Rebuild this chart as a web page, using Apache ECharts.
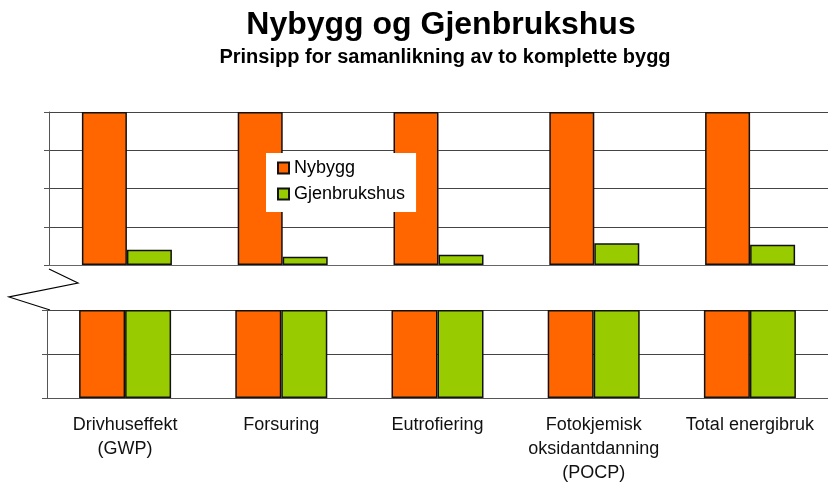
<!DOCTYPE html>
<html>
<head>
<meta charset="utf-8">
<script src="https://cdn.jsdelivr.net/npm/echarts@6/dist/echarts.min.js"></script>
<style>
  html, body { margin: 0; padding: 0; background: #fff; }
  #chart { width: 828px; height: 486px; }
</style>
</head>
<body>
<div id="chart"></div>
<script>
// kategoriar
const categories = ['Drivhuseffekt\n(GWP)', 'Forsuring', 'Eutrofiering', 'Fotokjemisk\noksidantdanning\n(POCP)', 'Total energibruk']
// øvre del (etter brot i aksen)
const nybyggUpper = [100, 100, 100, 100, 100]
const gjenbrukUpper = [10, 5.4, 6.7, 14.2, 13.3]
// nedre del (før brot i aksen)
const nybyggLower = [100, 100, 100, 100, 100]
const gjenbrukLower = [100, 100, 100, 100, 100]

const orange = '#ff6600'
const green = '#99cc00'
const font = 'Liberation Sans, Arial, sans-serif'

const chart = echarts.init(document.getElementById('chart'))

function barSeries(name, data, color, idx, width) {
  return {
    type: 'bar',
    name: name,
    data: data,
    xAxisIndex: idx,
    yAxisIndex: idx,
    barWidth: width,
    barGap: '0%',
    itemStyle: { color: color, borderColor: '#111', borderWidth: 1.5 },
    emphasis: { disabled: true },
    animation: false
  }
}

chart.setOption({
  backgroundColor: '#fff',
  title: [
    {
      text: 'Nybygg og Gjenbrukshus',
      left: 436, top: 4, textAlign: 'center',
      textStyle: { fontFamily: font, fontSize: 32, fontWeight: 'bold', color: '#000' }
    },
    {
      text: 'Prinsipp for samanlikning av to komplette bygg',
      left: 440, top: 42, textAlign: 'center',
      textStyle: { fontFamily: font, fontSize: 20, fontWeight: 'bold', color: '#000' }
    }
  ],
  legend: {
    data: ['Nybygg', 'Gjenbrukshus'],
    orient: 'vertical',
    left: 266, top: 153,
    padding: [6, 11, 9, 11],
    backgroundColor: '#fff',
    icon: 'rect',
    itemWidth: 11, itemHeight: 11, itemGap: 8,
    textStyle: { fontFamily: font, fontSize: 18, color: '#000' }
  },
  grid: [
    { left: 49, top: 112, width: 780, height: 153 },
    { left: 47, top: 310, width: 790, height: 88 }
  ],
  xAxis: [
    {
      type: 'category', gridIndex: 0, data: categories,
      axisLine: { lineStyle: { color: '#666', width: 1 } },
      axisTick: { length: 4, lineStyle: { color: '#333' } },
      axisLabel: { show: false }
    },
    {
      type: 'category', gridIndex: 1, data: categories,
      axisLine: { lineStyle: { color: '#555', width: 1 } },
      axisTick: { length: 5, lineStyle: { color: '#333' } },
      axisLabel: { margin: 15, fontFamily: font, fontSize: 18, color: '#111', lineHeight: 24, interval: 0 }
    }
  ],
  yAxis: [
    {
      type: 'value', gridIndex: 0, min: 0, max: 100, interval: 25,
      axisLine: { show: true, lineStyle: { color: '#555' } },
      axisTick: { show: true, length: 5, lineStyle: { color: '#555' } },
      axisLabel: { show: false },
      splitLine: { lineStyle: { color: '#444', width: 1 } }
    },
    {
      type: 'value', gridIndex: 1, min: 0, max: 100, interval: 50,
      axisLine: { show: true, lineStyle: { color: '#555' } },
      axisTick: { show: true, length: 5, lineStyle: { color: '#555' } },
      axisLabel: { show: false },
      splitLine: { lineStyle: { color: '#444', width: 1 } }
    }
  ],
  series: [
    barSeries('Nybygg', nybyggUpper, orange, 0, 45),
    barSeries('Gjenbrukshus', gjenbrukUpper, green, 0, 45),
    barSeries('Nybygg', nybyggLower, orange, 1, 46),
    barSeries('Gjenbrukshus', gjenbrukLower, green, 1, 46)
  ],
  // brot-markering mellom dei to delane av aksen
  graphic: [
    {
      type: 'polyline',
      shape: { points: [[49, 269], [78, 283], [9, 297], [50, 310]] },
      style: { stroke: '#000', lineWidth: 1.2, fill: null },
      silent: true
    }
  ]
})
</script>
</body>
</html>
